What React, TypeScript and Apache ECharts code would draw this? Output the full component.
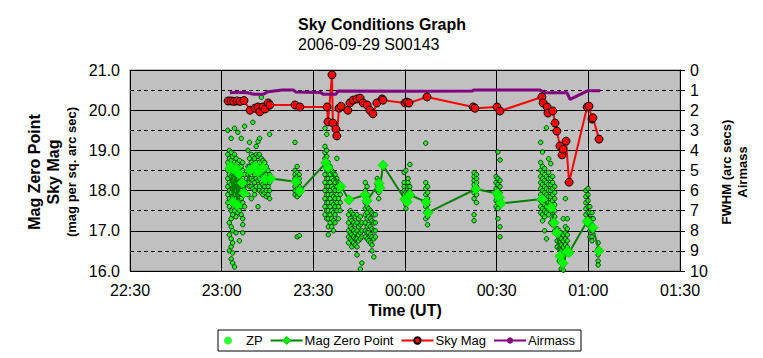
import React, { useEffect, useRef } from 'react';
import * as echarts from 'echarts';

const titleText = 'Sky Conditions Graph';
const subtitleText = '2006-09-29 S00143';
const xTickLabels = ['22:30', '23:00', '23:30', '00:00', '00:30', '01:00', '01:30'];
const leftAxisNames = ['Mag Zero Point', 'Sky Mag', '(mag per sq. arc sec)'];
const rightAxisNames = ['FWHM (arc secs)', 'Airmass'];
const xAxisName = 'Time (UT)';
const legendNames = ['ZP', 'Mag Zero Point', 'Sky Mag', 'Airmass'];

// times are minutes relative to 00:00 UT (negative = before midnight)
// ZP individual measurements, grouped by time column: [time, mags]
const zpColumns: [number, number[]][] = [
  [-58.0, [19.5, 18.9, 18.7, 18.5, 18.3, 18.1, 17.9, 17.7]],
  [-57.5, [19.0, 18.8, 18.6, 18.4, 18.2, 18.0, 17.8, 17.6, 17.2, 16.9, 16.5]],
  [-56.9, [19.3, 18.95, 18.75, 18.55, 18.35, 18.15, 17.95, 17.75, 17.5, 17.3, 17.1, 16.8, 16.6, 16.3]],
  [-56.4, [18.85, 18.65, 18.45, 18.25, 18.05, 17.85, 17.65, 17.4, 17.0, 16.7, 16.45, 16.2]],
  [-55.8, [19.55, 18.9, 18.7, 18.5, 18.3, 18.1, 17.9, 17.7, 17.5, 16.1]],
  [-55.3, [18.8, 18.6, 18.4, 18.2, 18.0, 17.8, 17.6, 17.35, 16.95]],
  [-54.7, [19.45, 18.7, 18.5, 18.3, 18.1, 17.9, 17.7, 17.45]],
  [-54.2, [18.75, 18.55, 18.35, 18.15, 17.95, 17.75, 17.5, 16.75]],
  [-53.6, [19.3, 18.6, 18.4, 18.2, 18.0, 17.8, 17.6, 17.4]],
  [-53.1, [18.7, 18.5, 18.3, 18.1, 17.9, 17.7, 17.3, 17.15, 16.95]],
  [-52.5, [19.6, 18.4, 18.2, 18.0, 17.6]],
  [-51.4, [19.0, 18.6, 18.4, 18.2, 17.9]],
  [-50.9, [19.2, 18.8, 18.6, 18.5, 18.3, 18.1]],
  [-50.3, [18.9, 18.7, 18.5, 18.3, 18.1, 17.8]],
  [-49.8, [19.7, 18.85, 18.65, 18.45, 18.25, 18.05]],
  [-49.2, [18.8, 18.6, 18.4, 18.2, 18.0, 17.9]],
  [-48.7, [19.1, 18.9, 18.7, 18.5, 18.3, 18.1]],
  [-48.1, [19.22, 18.85, 18.65, 18.45, 18.25, 17.6]],
  [-47.6, [19.3, 18.9, 18.7, 18.5, 18.3, 18.1, 18.0]],
  [-47.0, [20.32, 18.8, 18.6, 18.4, 18.2, 17.95]],
  [-46.5, [18.75, 18.55, 18.35, 18.15, 18.0, 17.9]],
  [-45.9, [18.7, 18.5, 18.3, 18.1, 17.95]],
  [-45.4, [18.6, 18.4, 18.2, 18.0, 17.85]],
  [-44.8, [18.5, 18.3, 18.1, 17.9]],
  [-44.3, [19.4, 18.4, 18.2, 18.0, 17.8]],
  [-36.0, [19.2, 18.5, 18.4, 18.3, 18.2, 18.1, 18.0, 17.9]],
  [-35.3, [18.6, 18.45, 18.35, 18.25, 18.15, 18.05, 17.95, 17.85, 16.85]],
  [-34.6, [18.4, 18.3, 18.2, 18.1, 18.0, 17.9, 16.88]],
  [-26.2, [19.55, 19.1, 18.95, 18.8, 18.6, 18.4, 18.2, 18.0, 17.8, 17.6, 17.4]],
  [-25.6, [19.4, 19.0, 18.85, 18.7, 18.5, 18.3, 18.1, 17.9, 17.7, 17.5, 17.3]],
  [-25.1, [18.7, 18.5, 18.3, 18.1, 17.9, 17.7, 17.5, 17.3, 17.1, 16.9]],
  [-24.5, [18.6, 18.4, 18.2, 18.0, 17.8, 17.6, 17.4, 17.2]],
  [-24.0, [18.5, 18.3, 18.1, 17.9, 17.7, 17.5, 17.3, 17.1]],
  [-23.4, [18.45, 18.25, 18.05, 17.85, 17.65, 17.45, 17.25, 17.0]],
  [-22.9, [18.4, 18.2, 18.0, 17.8, 17.6, 17.4, 17.2]],
  [-22.3, [18.8, 18.3, 18.1, 17.9, 17.7, 17.5]],
  [-21.8, [18.2, 18.0, 17.8, 17.6, 17.3]],
  [-21.2, [18.1, 17.9, 17.7, 17.5]],
  [-18.5, [17.4, 17.2, 17.0, 16.85, 16.7]],
  [-17.9, [17.5, 17.3, 17.1, 16.95, 16.8]],
  [-17.4, [17.45, 17.25, 17.05, 16.9, 16.75, 16.6]],
  [-16.8, [17.4, 17.2, 17.0, 16.85, 16.7]],
  [-16.3, [17.35, 17.15, 16.95, 16.8, 16.65]],
  [-15.7, [17.4, 17.2, 17.0, 16.8, 16.6, 16.4]],
  [-15.2, [17.3, 17.1, 16.9, 16.75]],
  [-14.6, [17.35, 17.15, 16.95, 16.8, 16.05]],
  [-14.1, [17.2, 17.0, 16.85, 16.2]],
  [-13.0, [18.2, 18.0, 17.85, 17.7, 17.55, 17.4, 17.2, 17.0, 16.85]],
  [-12.4, [18.1, 17.9, 17.75, 17.6, 17.45, 17.3, 17.1, 16.95, 16.8]],
  [-11.9, [17.55, 17.35, 17.15, 16.95, 16.75]],
  [-11.3, [17.5, 17.3, 17.1, 16.9, 16.7]],
  [-10.8, [17.45, 17.25, 17.05, 16.85, 16.65, 16.5]],
  [-10.2, [17.4, 17.2, 17.0, 16.8, 16.35]],
  [-9.7, [17.4, 17.2, 17.0, 16.85]],
  [-9.1, [18.3, 18.15, 18.0]],
  [-8.6, [18.25, 18.1, 17.95, 17.8]],
  [-0.3, [18.45, 18.2, 18.1, 18.0, 17.9, 17.8]],
  [0.3, [18.5, 17.95, 17.85, 17.75, 17.65, 17.55]],
  [1.0, [18.3, 18.2, 18.1, 17.95, 17.8, 17.7]],
  [1.6, [18.65, 18.1, 18.0, 17.9]],
  [6.8, [19.18, 18.2, 18.05, 17.9, 17.75, 17.6, 17.45, 17.3]],
  [7.4, [18.1, 17.95, 17.8, 17.65, 17.5, 17.35, 17.15]],
  [22.6, [18.45, 18.35, 18.25, 18.15, 18.05, 17.95, 17.8, 17.4, 17.25]],
  [23.4, [18.4, 18.3, 18.2, 18.1, 18.0, 17.9, 17.7]],
  [29.8, [18.35, 18.2, 18.05, 17.9, 17.75, 17.6]],
  [30.4, [18.96, 18.3, 18.15, 18.0, 17.85, 17.7, 17.55, 17.3]],
  [31.1, [18.76, 18.25, 18.1, 17.95, 17.8, 17.65, 17.1, 16.85]],
  [44.4, [19.2, 18.7, 18.5, 18.35, 18.2, 18.05, 17.9, 17.75, 17.6, 17.45]],
  [45.0, [18.96, 18.6, 18.45, 18.3, 18.15, 18.0, 17.85, 17.7, 17.55, 17.4, 17.25]],
  [45.7, [18.55, 18.4, 18.25, 18.1, 17.95, 17.8, 17.65, 17.5, 17.35, 17.0]],
  [46.3, [19.56, 18.35, 18.2, 18.05, 17.9, 17.75, 17.6, 17.45, 16.8]],
  [47.0, [18.79, 18.45, 18.3, 18.15, 18.0, 17.85, 17.7, 17.55, 17.4]],
  [47.7, [18.67, 18.3, 18.15, 18.0, 17.85, 17.7, 17.55, 17.2]],
  [48.3, [18.35, 18.2, 18.05, 17.9, 17.75, 17.6, 17.45, 17.3, 17.15]],
  [49.0, [18.1, 17.95, 17.8, 17.65, 17.5, 17.35, 17.0]],
  [49.8, [17.05, 16.9, 16.75, 16.6]],
  [50.5, [17.0, 16.85, 16.7, 16.55, 16.4, 16.25]],
  [51.1, [16.95, 16.8, 16.65, 16.5, 16.35, 16.2, 16.05]],
  [51.8, [17.3, 16.9, 16.75, 16.6, 16.45, 16.3, 16.15, 16.02]],
  [52.5, [17.8, 17.1, 16.95, 16.8, 16.65, 16.5]],
  [53.1, [17.3, 17.05, 16.9, 16.75, 16.6]],
  [59.2, [18.0, 17.85, 17.7, 17.55, 17.4, 17.25]],
  [59.9, [18.05, 17.9, 17.75, 17.6, 17.45, 17.3, 17.15]],
  [60.5, [17.6, 17.45, 17.3, 17.15, 17.0, 16.85]],
  [61.2, [17.45, 17.3, 17.15, 17.0, 16.85, 16.75]],
  [61.6, [17.3, 17.1, 17.0]],
  [63.2, [16.7, 16.55, 16.4, 16.25, 16.15]],
];

const magZeroPoint: [number, number][] = [
  [-57.3, 18.55], [-57.0, 18.6], [-56.3, 17.72], [-55.6, 18.5], [-55.3, 18.55], [-55.0, 17.64],
  [-54.3, 18.41], [-53.3, 18.19], [-52.7, 17.94], [-50.7, 18.51], [-49.1, 18.61], [-48.1, 18.47],
  [-46.5, 18.57], [-45.8, 18.29], [-43.9, 18.3], [-35.7, 18.22], [-34.4, 17.99], [-25.9, 18.69],
  [-25.2, 18.57], [-21.0, 18.1], [-18.3, 17.77], [-13.1, 17.89], [-12.4, 17.75], [-8.5, 18.18],
  [-8.2, 18.06], [-7.2, 18.63], [0.0, 17.78], [0.7, 17.72], [1.6, 17.89], [6.9, 17.72],
  [7.5, 17.45], [23.2, 18.04], [30.1, 17.93], [30.8, 17.83], [31.4, 17.68], [44.8, 17.79],
  [47.8, 17.58], [48.8, 17.2], [49.7, 16.95], [50.7, 16.37], [51.7, 16.19], [53.0, 16.48],
  [53.7, 16.46], [59.6, 17.23], [61.5, 17.08], [63.5, 16.5],
];

const skyMag: [number, number][] = [
  [-57.9, 20.23], [-56.9, 20.23], [-56.0, 20.22], [-55.0, 20.23], [-54.0, 20.22], [-52.7, 20.24],
  [-50.7, 20.0], [-49.1, 20.05], [-48.1, 20.08], [-47.5, 19.96], [-46.5, 20.08], [-45.8, 20.03],
  [-44.8, 20.18], [-44.2, 20.13], [-36.0, 20.13], [-34.4, 20.08], [-25.5, 20.08], [-25.2, 19.71],
  [-23.9, 20.88], [-23.6, 19.68], [-22.6, 19.53], [-22.3, 19.36], [-21.6, 20.05], [-20.9, 20.1],
  [-18.7, 20.0], [-18.0, 20.18], [-17.0, 20.25], [-15.7, 20.28], [-14.7, 20.3], [-13.7, 20.18],
  [-12.4, 20.13], [-11.5, 20.0], [-10.5, 19.91], [-9.2, 20.18], [-7.5, 20.28], [-7.2, 20.25],
  [0.0, 20.18], [0.7, 20.2], [1.3, 20.18], [7.2, 20.33], [22.3, 20.08], [22.9, 20.05],
  [30.1, 20.08], [31.1, 19.98], [44.8, 20.33], [45.2, 20.18], [46.5, 20.08], [46.8, 19.93],
  [48.4, 19.98], [49.1, 19.68], [49.7, 19.48], [50.7, 19.11], [51.4, 18.89], [51.7, 19.03],
  [52.7, 19.23], [53.7, 18.21], [59.6, 20.08], [60.2, 20.1], [61.2, 19.78], [61.5, 19.81],
  [63.5, 19.28],
];

const airmass: [number, number][] = [
  [-57.3, 1.13], [-54.5, 1.11], [-51.5, 1.13], [-49.5, 1.21], [-46.5, 1.21], [-44.8, 1.08],
  [-40.2, 1.0], [-36.5, 1.0], [-35.8, 1.09], [-27.5, 1.12], [-26.8, 1.21], [-22.6, 1.21],
  [-21.9, 1.04], [1.6, 1.06], [21.9, 1.05], [22.5, 1.0], [44.2, 1.0], [45.8, 1.13],
  [53.0, 1.13], [54.0, 1.46], [59.9, 1.03], [63.8, 1.03],
];

const FONT = '"Liberation Sans", Arial, sans-serif';

export default function App() {
  const ref = useRef<HTMLDivElement>(null);
  useEffect(() => {
    if (!ref.current) return;
    const chart = echarts.init(ref.current, null, { renderer: 'svg' });
    const zpPoints: [number, number][] = [];
    zpColumns.forEach(([t, mags]) => mags.forEach((m) => zpPoints.push([t, m])));

    const rot = Math.PI / 2;
    chart.setOption({
      animation: false,
      backgroundColor: '#ffffff',
      textStyle: { fontFamily: FONT },
      grid: {
        left: 130, top: 70, width: 550, height: 201,
        show: true, backgroundColor: '#c0c0c0', borderColor: '#808080', borderWidth: 1,
      },
      graphic: [
        { type: 'text', left: 298, top: 16, style: { text: titleText, font: `bold 16px ${FONT}`, fill: '#000' } },
        { type: 'text', left: 298, top: 36, style: { text: subtitleText, font: `16px ${FONT}`, fill: '#000' } },
        { type: 'text', x: 34, y: 172, rotation: rot, style: { text: leftAxisNames[0], font: `bold 16px ${FONT}`, fill: '#000', textAlign: 'center', textVerticalAlign: 'middle' } },
        { type: 'text', x: 53, y: 172, rotation: rot, style: { text: leftAxisNames[1], font: `bold 16px ${FONT}`, fill: '#000', textAlign: 'center', textVerticalAlign: 'middle' } },
        { type: 'text', x: 71, y: 172, rotation: rot, style: { text: leftAxisNames[2], font: `bold 13px ${FONT}`, fill: '#000', textAlign: 'center', textVerticalAlign: 'middle' } },
        { type: 'text', x: 726, y: 172, rotation: rot, style: { text: rightAxisNames[0], font: `bold 13px ${FONT}`, fill: '#000', textAlign: 'center', textVerticalAlign: 'middle' } },
        { type: 'text', x: 742, y: 172, rotation: rot, style: { text: rightAxisNames[1], font: `bold 13px ${FONT}`, fill: '#000', textAlign: 'center', textVerticalAlign: 'middle' } },
      ],
      legend: {
        data: [
          { name: legendNames[0], itemStyle: { borderWidth: 0 } },
          legendNames[1], legendNames[2], legendNames[3],
        ],
        left: 218, top: 330,
        borderColor: '#000', borderWidth: 1, borderRadius: 0,
        padding: [4, 6], itemGap: 7, itemWidth: 32, itemHeight: 8,
        textStyle: { fontSize: 13, color: '#000', fontFamily: FONT, padding: [0, 0, 0, -3] },
      },
      xAxis: {
        type: 'value', min: -90, max: 90, interval: 30,
        name: xAxisName, nameLocation: 'middle', nameGap: 30,
        nameTextStyle: { fontSize: 16, fontWeight: 'bold', color: '#000', fontFamily: FONT },
        axisLine: { lineStyle: { color: '#000', width: 1 } },
        axisTick: { show: true, length: 5, lineStyle: { color: '#000' } },
        axisLabel: {
          fontSize: 16, color: '#000', margin: 11, fontFamily: FONT,
          formatter: (v: number) => xTickLabels[Math.round((v + 90) / 30)] ?? '',
        },
        splitLine: { show: true, lineStyle: { color: '#000', width: 1 } },
      },
      yAxis: [
        {
          type: 'value', min: 16, max: 21, interval: 1,
          axisLine: { show: true, lineStyle: { color: '#000', width: 1 } },
          axisTick: { show: true, length: 5, lineStyle: { color: '#000' } },
          minorTick: { show: true, splitNumber: 2, length: 5, lineStyle: { color: '#000' } },
          axisLabel: { fontSize: 16, color: '#000', margin: 10, fontFamily: FONT, formatter: (v: number) => v.toFixed(1) },
          splitLine: { show: true, lineStyle: { color: '#000', width: 1 } },
        },
        {
          type: 'value', min: 0, max: 10, interval: 1, inverse: true, position: 'right',
          axisLine: { show: true, lineStyle: { color: '#000', width: 1 } },
          axisTick: { show: true, length: 5, lineStyle: { color: '#000' } },
          axisLabel: { fontSize: 16, color: '#000', margin: 10, fontFamily: FONT },
          splitLine: { show: true, lineStyle: { color: '#000', width: 1, type: [4, 3] } },
        },
      ],
      series: [
        {
          name: 'ZP', type: 'scatter', data: zpPoints, yAxisIndex: 0,
          symbol: 'circle', symbolSize: 4.5,
          itemStyle: { color: '#00ff00', borderColor: '#002200', borderWidth: 1 },
        },
        {
          name: 'Mag Zero Point', type: 'line', data: magZeroPoint, yAxisIndex: 0,
          symbol: 'diamond', symbolSize: 10,
          lineStyle: { color: '#008000', width: 2 },
          itemStyle: { color: '#00ff00', borderColor: '#00dd00', borderWidth: 1 },
        },
        {
          name: 'Sky Mag', type: 'line', data: skyMag, yAxisIndex: 0,
          symbol: 'circle', symbolSize: 8,
          lineStyle: { color: '#ff0000', width: 2 },
          itemStyle: { color: '#ff0000', borderColor: '#000', borderWidth: 1 },
        },
        {
          name: 'Airmass', type: 'line', data: airmass, yAxisIndex: 1,
          symbol: 'none', showSymbol: false,
          lineStyle: { color: '#800080', width: 3 },
          itemStyle: { color: '#800080' },
        },
      ],
    });
    return () => chart.dispose();
  }, []);
  return <div ref={ref} style={{ position: 'fixed', left: 0, top: 0, width: 763, height: 358 }} />;
}
